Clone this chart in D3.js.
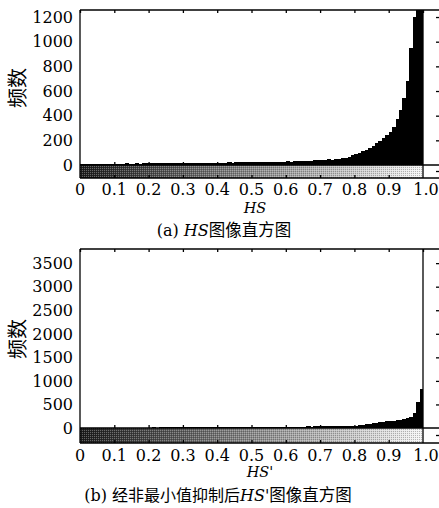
<!DOCTYPE html>
<html>
<head>
<meta charset="utf-8">
<script src="https://d3js.org/d3.v7.min.js"></script>
<style>
  body { margin: 0; background: #fff; }
  svg { display: block; }
  .tick-label { font-family: "DejaVu Serif", serif; font-size: 16px; fill: #000; }
  .cjk { font-family: "Noto Sans CJK SC", sans-serif; fill: #000; }
</style>
</head>
<body>
<svg id="canvas" width="439" height="508"></svg>
<script>
"use strict"

// histogram bins are 0.01 wide, HS in [0, 1]
const binWidth = 0.01

// (a) HS histogram, counts per bin (top clipped at ~1257)
const countsHS = [
  8, 9, 10, 10, 10, 11, 10, 11, 12, 11,
  12, 11, 12, 13, 12, 12, 13, 12, 13, 14,
  13, 14, 13, 14, 15, 14, 15, 15, 16, 15,
  16, 15, 17, 16, 17, 18, 17, 18, 19, 18,
  19, 20, 19, 21, 20, 22, 21, 22, 23, 22,
  24, 23, 25, 24, 26, 25, 27, 26, 28, 27,
  29, 28, 31, 30, 35, 32, 36, 34, 39, 37,
  41, 40, 45, 44, 50, 48, 53, 57, 65, 78,
  90, 100, 112, 125, 140, 155, 175, 195, 215, 240,
  270, 310, 370, 450, 540, 680, 950, 1200, 1500, 2000
]

// (b) HS' histogram after non-minimum suppression
const countsHS2 = [
  5, 6, 5, 7, 6, 7, 6, 8, 7, 8,
  7, 8, 9, 8, 9, 10, 9, 10, 9, 10,
  10, 11, 10, 12, 11, 12, 11, 13, 12, 13,
  12, 13, 14, 13, 14, 15, 14, 15, 16, 15,
  16, 17, 16, 18, 17, 18, 19, 18, 20, 19,
  20, 21, 22, 21, 23, 22, 24, 23, 25, 24,
  26, 25, 28, 27, 30, 29, 32, 31, 34, 33,
  36, 35, 38, 40, 39, 42, 44, 43, 46, 48,
  52, 57, 64, 75, 88, 100, 108, 118, 128, 140,
  148, 158, 168, 180, 195, 210, 240, 320, 560, 830
]

const xTicks = [0, 0.1, 0.2, 0.3, 0.4, 0.5, 0.6, 0.7, 0.8, 0.9, 1.0]
const yTicksA = [0, 200, 400, 600, 800, 1000, 1200]
const yTicksB = [0, 500, 1000, 1500, 2000, 2500, 3000, 3500]

const svg = d3.select("#canvas")

// gray ramp for the colorbar under each histogram
const defs = svg.append("defs")
const grad = defs.append("linearGradient").attr("id", "ramp")
  .attr("x1", 0).attr("x2", 1).attr("y1", 0).attr("y2", 0)
grad.append("stop").attr("offset", 0).attr("stop-color", "#1c1c1c")
grad.append("stop").attr("offset", 1).attr("stop-color", "#f6f6f6")

const dither = defs.append("pattern").attr("id", "dither")
  .attr("width", 2).attr("height", 2).attr("patternUnits", "userSpaceOnUse")
dither.append("rect").attr("x", 0).attr("y", 0).attr("width", 1).attr("height", 1)
  .attr("fill", "#fff").attr("opacity", 0.3)
dither.append("rect").attr("x", 1).attr("y", 1).attr("width", 1).attr("height", 1)
  .attr("fill", "#000").attr("opacity", 0.25)

function panel(p) {
  const left = 80, right = 440
  const x = d3.scaleLinear().domain([0, 1]).range([80, 423])
  const y = d3.scaleLinear().domain([0, p.yMax]).range([p.base, p.top])
  const g = svg.append("g")

  defs.append("clipPath").attr("id", p.id + "-clip")
    .append("rect").attr("x", left).attr("y", p.top)
    .attr("width", x(1) - left).attr("height", p.base - p.top)

  // bars
  g.append("g").attr("clip-path", "url(#" + p.id + "-clip)")
    .attr("shape-rendering", "crispEdges")
    .selectAll("rect")
    .data(p.counts)
    .join("rect")
      .attr("x", (d, i) => x(i * binWidth))
      .attr("width", (d, i) => x((i + 1) * binWidth) - x(i * binWidth) + 0.8)
      .attr("y", d => y(d))
      .attr("height", d => p.base - y(d))
      .attr("fill", "#000")

  // colorbar
  g.append("rect").attr("x", x(0)).attr("y", p.base)
    .attr("width", x(1) - x(0)).attr("height", p.cbBottom - p.base)
    .attr("fill", "url(#ramp)")
  g.append("rect").attr("x", x(0)).attr("y", p.base)
    .attr("width", x(1) - x(0)).attr("height", p.cbBottom - p.base)
    .attr("fill", "url(#dither)")

  // frame lines
  const line = (x1, y1, x2, y2) => g.append("line")
    .attr("x1", x1).attr("y1", y1).attr("x2", x2).attr("y2", y2)
    .attr("stroke", "#000").attr("stroke-width", 1.3)
  line(left, p.top, right, p.top)
  line(left, p.top, left, p.cbBottom)
  line(left, p.base, right, p.base)
  line(left, p.cbBottom, right, p.cbBottom)
  line(x(1), p.top, x(1), p.cbBottom)

  // x ticks: down from top, up from baseline and colorbar bottom
  const tickTop = d3.axisBottom(x).tickValues(xTicks).tickSize(3).tickFormat("")
  g.append("g").attr("transform", "translate(0," + p.top + ")").call(tickTop)
  const tickUp = d3.axisTop(x).tickValues(xTicks.slice(1, -1)).tickSize(3).tickFormat("")
  g.append("g").attr("transform", "translate(0," + p.base + ")").call(tickUp)
  g.append("g").attr("transform", "translate(0," + p.cbBottom + ")").call(tickUp)

  // right-edge y ticks (the box is cut off by the picture edge)
  const tickRight = d3.axisLeft(y).tickValues(p.yTicks.slice(1)).tickSize(4).tickFormat("")
  g.append("g").attr("transform", "translate(" + right + ",0)").call(tickRight)
  line(right - 4, (p.base + p.cbBottom) / 2, right, (p.base + p.cbBottom) / 2)
  g.selectAll(".domain").remove()
  g.selectAll(".tick line").attr("stroke-width", 1.3)

  // y labels
  g.append("g").selectAll("text")
    .data(p.yTicks)
    .join("text")
      .attr("class", "tick-label")
      .attr("x", 73)
      .attr("y", d => y(d))
      .attr("dy", "0.36em")
      .attr("text-anchor", "end")
      .text(d => d)

  // x labels
  g.append("g").selectAll("text")
    .data(xTicks)
    .join("text")
      .attr("class", "tick-label")
      .attr("x", d => x(d) + (d === 1 ? 3 : 0))
      .attr("y", p.tickY)
      .attr("dy", "0.36em")
      .attr("text-anchor", "middle")
      .text(d => d === 0 ? "0" : d.toFixed(1))

  // axis titles
  g.append("text").attr("class", "cjk")
    .attr("transform", "translate(" + 25 + "," + p.ylabelY + ") rotate(-90)")
    .attr("text-anchor", "middle")
    .style("font-size", "20px")
    .text("频数")

  const xt = g.append("text")
    .attr("x", p.xlabelX).attr("y", p.titleY)
    .attr("dy", "0.36em")
    .attr("text-anchor", "middle")
    .style("font-family", "'DejaVu Serif', serif")
    .style("font-size", "14.5px")
  xt.append("tspan").style("font-style", "italic").text("HS")
  if (p.prime) xt.append("tspan").text("'")

  // caption
  const cap = g.append("text")
    .attr("x", p.capX).attr("y", p.capY)
    .attr("dy", "0.36em")
    .attr("text-anchor", "middle")
    .style("font-family", "'DejaVu Serif', 'Noto Sans CJK SC', serif")
    .style("font-size", "16px")
  cap.append("tspan").text(p.capPre)
  cap.append("tspan").style("font-style", "italic").text("HS")
  if (p.prime) cap.append("tspan").text("'")
  cap.append("tspan").style("font-family", "'Noto Sans CJK SC', sans-serif")
    .style("font-size", "16.5px").text("图像直方图")
}

panel({
  id: "a", counts: countsHS, yTicks: yTicksA, yMax: 1257,
  top: 10, base: 165, cbBottom: 178, ylabelY: 88,
  tickY: 189, titleY: 208, capY: 230,
  xlabelX: 255, capX: 224, capPre: "(a) ", prime: false
})

panel({
  id: "b", counts: countsHS2, yTicks: yTicksB, yMax: 3800,
  top: 249, base: 428, cbBottom: 443, ylabelY: 339,
  tickY: 455, titleY: 472, capY: 495,
  xlabelX: 260, capX: 218, capPre: "(b) 经非最小值抑制后", prime: true
})
</script>
</body>
</html>
